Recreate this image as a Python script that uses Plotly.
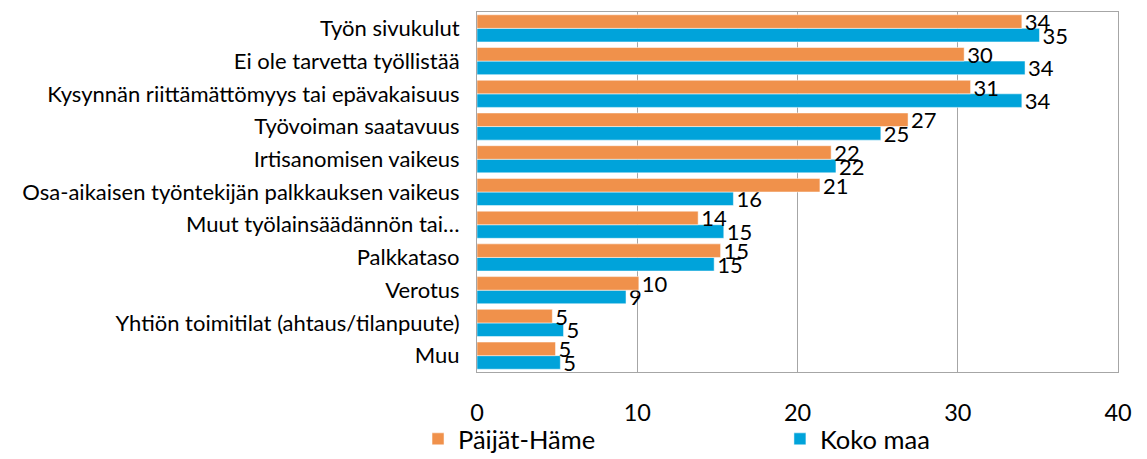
import plotly.graph_objects as go

categories = [
    "Työn sivukulut",
    "Ei ole tarvetta työllistää",
    "Kysynnän riittämättömyys tai epävakaisuus",
    "Työvoiman saatavuus",
    "Irtisanomisen vaikeus",
    "Osa-aikaisen työntekijän palkkauksen vaikeus",
    "Muut työlainsäädännön tai…",
    "Palkkataso",
    "Verotus",
    "Yhtiön toimitilat (ahtaus/tilanpuute)",
    "Muu",
]
paijat_hame = [34.0, 30.4, 30.8, 26.9, 22.1, 21.4, 13.8, 15.2, 10.1, 4.7, 4.9]
koko_maa = [35.1, 34.2, 34.0, 25.2, 22.4, 16.0, 15.4, 14.8, 9.3, 5.4, 5.2]
x_ticks = [0, 10, 20, 30, 40]

FONT = "Lato"
ORANGE = "#F0914B"
BLUE = "#00A3DA"

fig = go.Figure()
# Plotly draws the first category at the bottom, so the lists are reversed
for name, vals, color, leg in [("Koko maa", koko_maa, BLUE, "legend2"),
                               ("Päijät-Häme", paijat_hame, ORANGE, "legend")]:
    fig.add_trace(go.Bar(
        name=name,
        y=categories[::-1],
        x=vals[::-1],
        orientation="h",
        legend=leg,
        marker=dict(color=color, line=dict(color="white", width=0.5)),
        texttemplate="%{x:.0f}",
        textposition="outside",
        constraintext="none",
        cliponaxis=False,
        textfont=dict(family=FONT, size=22, color="black"),
    ))

# y in container coords so the legends only reserve a small bottom strip
legend_style = dict(
    orientation="h",
    xref="paper",
    yref="container",
    xanchor="left",
    y=0.043,
    yanchor="middle",
    font=dict(family=FONT, size=25.5),
    bgcolor="rgba(0,0,0,0)",
)
fig.update_layout(
    width=1147,
    height=459,
    barmode="group",
    bargap=0.17,
    bargroupgap=0,
    font=dict(family=FONT, size=22, color="black"),
    margin=dict(l=477, r=29, t=12, b=87),
    plot_bgcolor="white",
    paper_bgcolor="white",
    showlegend=True,
    legend=dict(x=-0.092, **legend_style),
    legend2=dict(x=0.4726, **legend_style),
)
fig.update_xaxes(
    range=[0, 40],
    tickvals=x_ticks,
    showgrid=True,
    gridcolor="#A6A6A6",
    gridwidth=1,
    showline=True,
    linecolor="#A6A6A6",
    mirror=True,
    zeroline=False,
    tickfont=dict(family=FONT, size=23.5),
    ticks="",
    ticklabelstandoff=20,
    automargin=False,
)
fig.update_yaxes(
    showline=True,
    linecolor="#A6A6A6",
    mirror=True,
    ticks="",
    ticklabelstandoff=12,
    tickfont=dict(family=FONT, size=22),
    automargin=False,
)

# the page body has a default 8px margin; drop it so the chart sits at (0, 0)
fig.write_html("out.html", config={"displayModeBar": False},
               post_script="document.body.style.margin='0';")
